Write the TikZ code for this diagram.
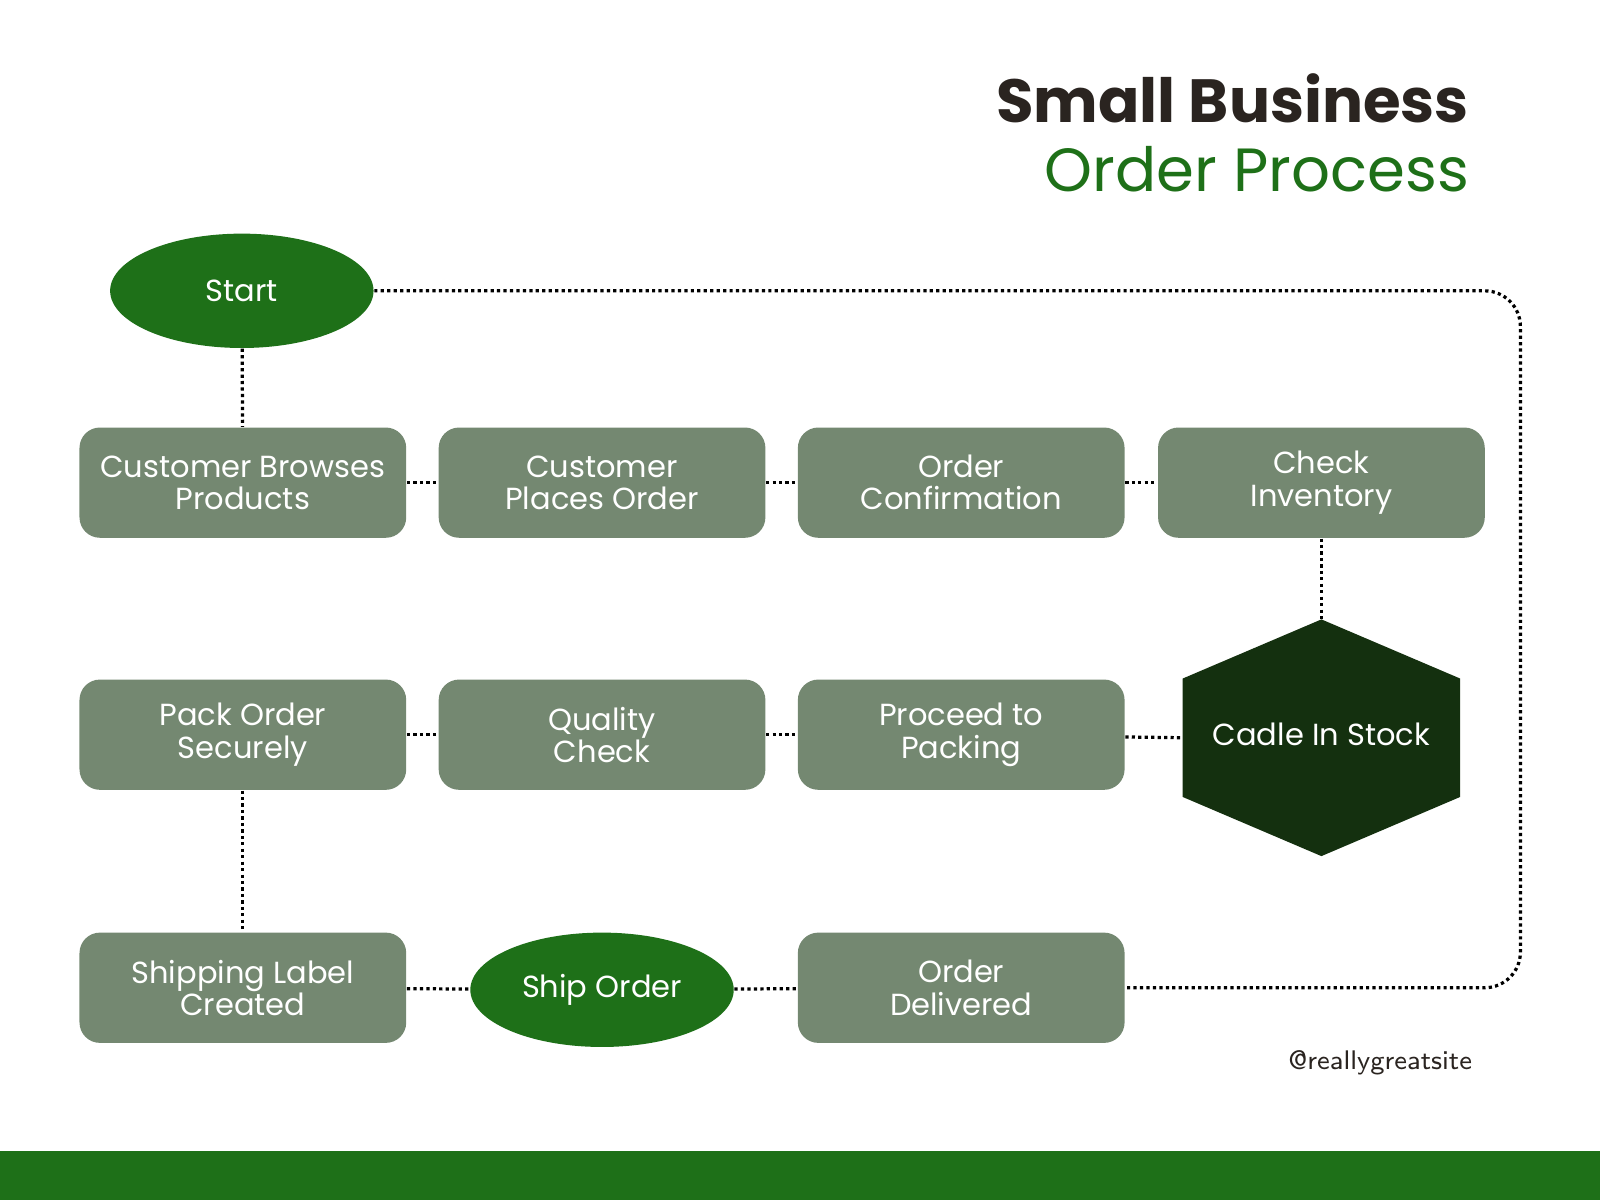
\documentclass[tikz,border=0pt]{standalone}
\usepackage{fontspec}
\setmainfont{Poppins}
\usetikzlibrary{shapes.geometric,positioning}
\definecolor{leaf}{HTML}{1E7018}
\definecolor{sage}{HTML}{748871}
\definecolor{pine}{HTML}{14300F}
\definecolor{ink}{HTML}{2A2420}
\tikzset{stage/.style={shape=rectangle, rounded corners=0.2cm, fill=sage, text=white, minimum width=3.2cm, minimum height=1.08cm, align=center, font=\fontsize{8.5}{9}\selectfont, inner sep=0pt}}
\tikzset{term/.style={shape=ellipse, fill=leaf, text=white, minimum width=2.58cm, minimum height=1.12cm, font=\fontsize{8.5}{9}\selectfont, inner sep=0pt}}
\tikzset{link/.style={line width=0.9pt, dash pattern=on 0.9pt off 0.9pt, black}}
\begin{document}
\begin{tikzpicture}[x=0.01cm, y=-0.01cm]
\useasboundingbox (0,0) rectangle (1568,1176);
\fill[leaf] (0,1128) rectangle (1568,1176);
% title
\node[anchor=base east, text=ink, font=\fontsize{17}{18}\selectfont\bfseries] (title1) at (1452,120) {Small Business};
\node[anchor=base east, text=leaf, font=\fontsize{17}{18}\selectfont] (title2) at (1452,188) {Order Process};
% nodes
\node[term] (start) at (237,285) {Start};
\node[stage] (browse) at (238,473) {Customer Browses\\Products};
\node[stage] (places) at (590,473) {Customer\\Places Order};
\node[stage] (confirm) at (942,473) {Order\\Confirmation};
\node[stage] (inventory) at (1295,473) {Check\\Inventory};
\node[stage] (pack) at (238,720) {Pack Order\\Securely};
\node[stage] (quality) at (590,720) {Quality\\Check};
\node[stage] (proceed) at (942,720) {Proceed to\\Packing};
\node[stage] (label) at (238,968) {Shipping Label\\Created};
\node[term] (ship) at (590,970) {Ship Order};
\node[stage] (delivered) at (942,968) {Order\\Delivered};
% hexagon
\coordinate (hexT) at (1295,607);
\coordinate (hexL) at (1159,723);
\fill[pine] (hexT) -- (1431,665) -- (1431,781) -- (1295,839) -- (1159,781) -- (1159,665) -- cycle;
\node[text=white, font=\fontsize{8.5}{9}\selectfont] (stock) at (1295,720) {Cadle In Stock};
\coordinate (loopA) at (1490,285);
\coordinate (loopB) at (1490,968);
% links
\draw[link] (start) -- (browse);
\draw[link] (browse) -- (places);
\draw[link] (places) -- (confirm);
\draw[link] (confirm) -- (inventory);
\draw[link] (inventory) -- (hexT);
\draw[link] (proceed) -- (hexL);
\draw[link] (quality) -- (proceed);
\draw[link] (pack) -- (quality);
\draw[link] (pack) -- (label);
\draw[link] (label) -- (ship);
\draw[link] (ship) -- (delivered);
\draw[link, rounded corners=0.35cm] (start.east) -- (loopA) -- (loopB) -- (delivered.east);
\node[anchor=base east, text=ink, font=\fontsize{7.5}{8}\selectfont\sffamily] (handle) at (1455,1048) {@reallygreatsite};
\end{tikzpicture}
\end{document}
